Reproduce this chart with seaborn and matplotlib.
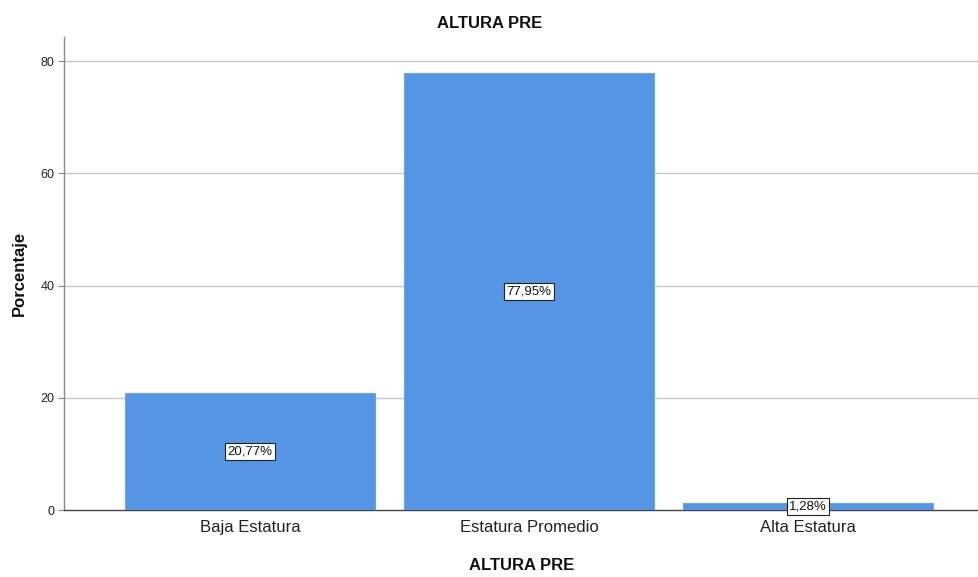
import matplotlib
matplotlib.use("Agg")
import matplotlib.pyplot as plt
import seaborn as sns
import pandas as pd

categorias = ["Baja Estatura", "Estatura Promedio", "Alta Estatura"]
porcentajes = [20.77, 77.95, 1.28]
etiquetas = ["20,77%", "77,95%", "1,28%"]
marcas_y = [0, 20, 40, 60, 80]

sns.set_theme(style="white")
plt.rcParams["font.family"] = ["Liberation Sans", "DejaVu Sans"]

df = pd.DataFrame({"categoria": categorias, "porcentaje": porcentajes})

fig = plt.figure(figsize=(9.79, 5.77), dpi=100)
ax = fig.add_axes([0.0654, 0.1161, 0.934, 0.8198])

sns.barplot(data=df, x="categoria", y="porcentaje", color="#5595e5",
            saturation=1, width=0.896, edgecolor="#6ea6ea", linewidth=0.8,
            ax=ax, zorder=3)

ax.set_xlim(-0.667, 2.61)
ax.set_ylim(0, 84.3)
ax.set_yticks(marcas_y)
ax.set_yticklabels([str(v) for v in marcas_y], fontsize=9, color="#222222")
ax.tick_params(axis="y", length=4, width=0.8, color="#888888", pad=3, left=True)
ax.tick_params(axis="x", length=0, labelsize=12, pad=7.5, labelcolor="#222222")

for v in marcas_y[1:]:
    ax.axhline(v, color="#c8c8c8", linewidth=1.0, zorder=1)

for s in ["top", "right"]:
    ax.spines[s].set_visible(False)
ax.spines["left"].set_color("#888888")
ax.spines["left"].set_linewidth(1.0)
ax.spines["bottom"].set_color("#444444")
ax.spines["bottom"].set_linewidth(1.0)

for i, (v, t) in enumerate(zip(porcentajes, etiquetas)):
    ax.text(i, v / 2, t, ha="center", va="center", fontsize=9.5, color="#111111",
            zorder=5,
            bbox=dict(boxstyle="square,pad=0.18", facecolor="white",
                      edgecolor="#222222", linewidth=0.8))

ax.set_xlabel("ALTURA PRE", fontsize=12, fontweight="bold", labelpad=16,
              color="#111111")
ax.set_ylabel("Porcentaje", fontsize=12, fontweight="bold", labelpad=10,
              color="#111111")
fig.text(0.5, 0.959, "ALTURA PRE", ha="center", va="center",
         fontsize=12, fontweight="bold", color="#111111")

fig.savefig("out.png", dpi=100, facecolor="white")
